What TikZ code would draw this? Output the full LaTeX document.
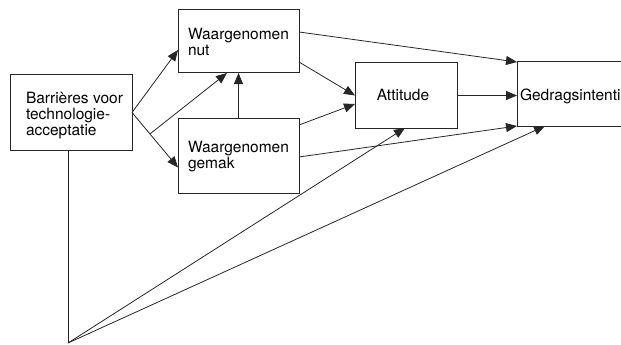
\documentclass[tikz,border=0pt]{standalone}
\usepackage{fontspec}
\setmainfont{TeX Gyre Heros}
\usetikzlibrary{arrows.meta,calc}
\begin{document}
\begin{tikzpicture}[x=1pt,y=-1pt,
  box/.style={draw=black!85,line width=1pt,inner sep=0pt,outer sep=0pt},
  lbl/.style={inner sep=0pt,outer sep=0pt,align=left,font=\fontsize{15.5}{16}\selectfont},
  conn/.style={draw=black!85,line width=0.8pt,-{Triangle[length=11pt,width=9pt]}},
  plain/.style={draw=black!85,line width=0.8pt}]
\clip (0,0) rectangle (621,345);
% boxes
\node[box,minimum width=122pt,minimum height=75pt] (bar) at (71,112.5) {};
\node[box,minimum width=121pt,minimum height=63pt] (nut) at (238.5,41.5) {};
\node[box,minimum width=121pt,minimum height=75pt] (gem) at (238.5,155.5) {};
\node[box,minimum width=102pt,minimum height=65pt] (att) at (406,95.5) {};
\node[box,minimum width=140pt,minimum height=64pt] (ged) at (587,94) {};
% texts
\node[lbl,anchor=north west] (barT) at (26,92) {Barrières voor\\technologie-\\acceptatie};
\node[lbl,anchor=north west] (nutT) at (188,28.5) {Waargenomen\\nut};
\node[lbl,anchor=north west] (gemT) at (188,141) {Waargenomen\\gemak};
\node[lbl,anchor=base] (attT) at (403,100) {Attitude};
\node[lbl,anchor=base west] (gedT) at (520,100) {Gedragsintentie};
% connectors
\coordinate (apex) at (68,343);
\path[conn] (bar.east) -- ([yshift=-8.5pt]nut.west);
\path[conn] (bar.east) -- ([yshift=-12pt]gem.west);
\coordinate (br) at ($(bar.east)!0.39!([yshift=-12pt]gem.west)$);
\path[conn] (br) -- ([xshift=-11.5pt]nut.south);
\path[conn] (gem.north) -- (nut.south);
\path[conn] ([yshift=9.5pt]nut.east) -- (ged.north west);
\path[conn] ([yshift=11pt]nut.south east) -- (att.west);
\path[conn] ([yshift=-7pt]gem.north east) -- ([yshift=-8.5pt]att.west);
\path[conn] ([yshift=-1.5pt]gem.east) -- (ged.south west);
\path[conn] (att.east) -- (att.east -| ged.west);
\path[plain] (bar.south -| apex) -- (apex);
\path[conn] (apex) -- ([xshift=-1pt]att.south);
\path[conn] (apex) -- ([xshift=28pt]ged.south west);
\end{tikzpicture}
\end{document}
